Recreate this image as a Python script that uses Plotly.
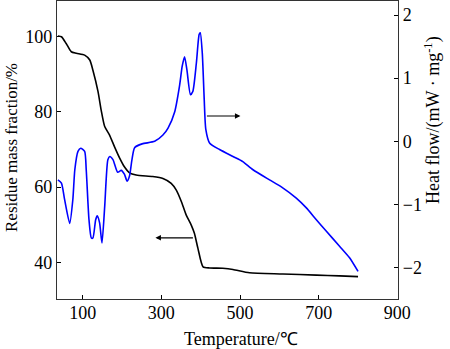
import plotly.graph_objects as go

# TG curve: residue mass fraction (%) vs temperature (°C)
tg_temp = [37, 46, 58, 71, 84, 105, 118, 126, 139, 147, 156, 168, 181, 194, 206, 219,
           236, 278, 304, 325, 338, 351, 363, 376, 384, 393, 406, 423, 456, 482, 524,
           609, 694, 753, 800]
tg_mass = [100.2, 100.0, 98.2, 96.0, 95.6, 95.1, 93.8, 91.1, 85.4, 80.5, 76.1, 73.9,
           70.7, 67.7, 65.4, 63.8, 63.2, 62.8, 62.3, 61.0, 59.2, 56.1, 52.6, 49.9,
           47.7, 43.7, 38.8, 38.5, 38.4, 38.1, 37.2, 36.9, 36.6, 36.4, 36.2]

# DSC curve: heat flow (mW/mg) vs temperature (°C)
dsc_temp = [37, 46, 54, 67, 75, 80, 88, 95, 105, 109, 116, 122, 126, 133, 137, 143,
            149, 156, 164, 169, 177, 189, 198, 206, 213, 219, 225, 232, 251, 283,
            304, 317, 334, 346, 353, 359, 365, 374, 380, 389, 396, 399, 404, 409,
            413, 423, 448, 482, 507, 533, 575, 605, 643, 668, 694, 719, 753, 778, 800]
dsc_flow = [-0.61, -0.66, -0.92, -1.30, -0.92, -0.45, -0.16, -0.11, -0.16, -0.45,
            -1.24, -1.53, -1.53, -1.24, -1.18, -1.29, -1.61, -1.03, -0.29, -0.24,
            -0.29, -0.49, -0.46, -0.52, -0.63, -0.55, -0.30, -0.10, -0.04, 0.00,
            0.10, 0.21, 0.47, 0.87, 1.19, 1.34, 1.13, 0.74, 0.79, 1.24, 1.69, 1.72,
            1.40, 0.66, 0.19, -0.03, -0.13, -0.24, -0.32, -0.45, -0.61, -0.72, -0.90,
            -1.05, -1.24, -1.42, -1.66, -1.84, -2.06]

x_ticks = [100, 300, 500, 700, 900]
left_ticks = [40, 60, 80, 100]
right_ticks = [-2, -1, 0, 1, 2]

FONT = "Liberation Serif, Times New Roman, serif"
TICK_FONT = dict(family=FONT, size=18, color="black")
TITLE_FONT = dict(family=FONT, size=17, color="black")
TITLE_FONT_LG = dict(family=FONT, size=18, color="black")

fig = go.Figure()
fig.add_trace(go.Scatter(x=tg_temp, y=tg_mass, mode="lines",
                         line=dict(color="black", width=1.6, shape="spline", smoothing=0.6),
                         yaxis="y", showlegend=False))
fig.add_trace(go.Scatter(x=dsc_temp, y=dsc_flow, mode="lines",
                         line=dict(color="#0000ff", width=1.6, shape="spline", smoothing=0.6),
                         yaxis="y2", showlegend=False))

axis_common = dict(showgrid=False, zeroline=False, ticks="inside", ticklen=4,
                   tickwidth=1, tickcolor="black", linecolor="#333333", linewidth=1.3,
                   showline=True, tickfont=TICK_FONT)

fig.update_layout(
    width=450, height=349,
    margin=dict(l=57, r=52, t=1, b=50),
    paper_bgcolor="white", plot_bgcolor="white",
    font=dict(family=FONT, size=17, color="black"),
    xaxis=dict(range=[34.7, 901.6], tickvals=x_ticks, mirror=True,
               ticklabelstandoff=-3, **axis_common),
    yaxis=dict(range=[30.24, 109.5], tickvals=left_ticks, **axis_common),
    yaxis2=dict(range=[-2.496, 2.222], tickvals=right_ticks, overlaying="y", side="right",
                **axis_common),
    annotations=[
        dict(text="Temperature/℃", xref="x", yref="paper", x=502, y=-0.135,
             xanchor="center", yanchor="middle", showarrow=False, font=TITLE_FONT_LG),
        dict(text="Residue mass fraction/%", xref="paper", yref="paper",
             x=-0.135, y=0.51, xanchor="center", yanchor="middle", textangle=-90,
             showarrow=False, font=TITLE_FONT),
        dict(text="Heat flow/(mW · mg<sup>-1</sup>)", xref="paper", yref="paper",
             x=1.102, y=0.6, xanchor="center", yanchor="middle", textangle=-90,
             showarrow=False, font=TITLE_FONT_LG),
        # arrow pointing to the right-hand axis (heat flow)
        dict(x=501, y=78.9, ax=412, ay=78.9, xref="x", yref="y", axref="x", ayref="y",
             text="", showarrow=True, arrowhead=2, arrowsize=1, arrowwidth=1.1,
             arrowcolor="black"),
        # arrow pointing to the left-hand axis (mass fraction)
        dict(x=285, y=46.5, ax=384, ay=46.5, xref="x", yref="y", axref="x", ayref="y",
             text="", showarrow=True, arrowhead=2, arrowsize=1, arrowwidth=1.1,
             arrowcolor="black"),
    ],
)

fig.write_html("out.html")
